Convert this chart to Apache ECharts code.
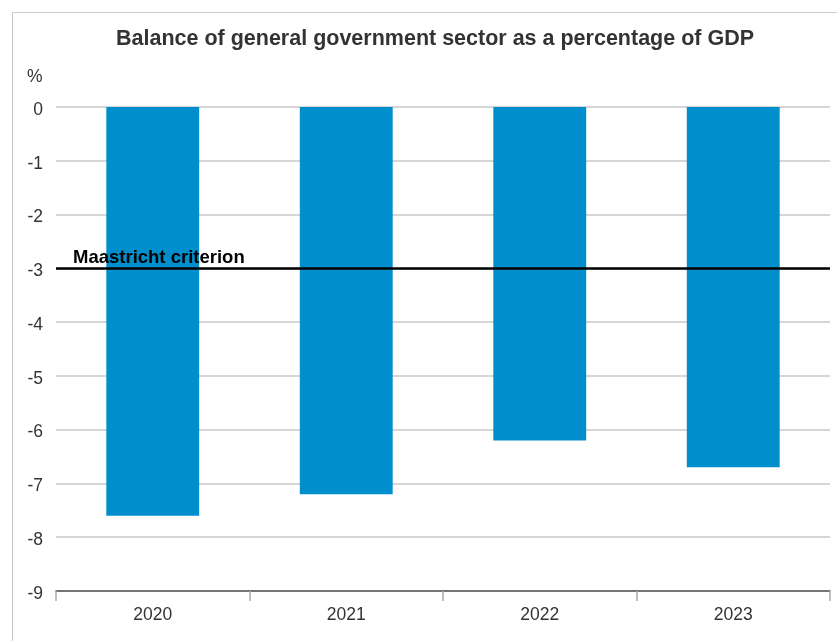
<!DOCTYPE html>
<html>
<head>
<meta charset="utf-8">
<script src="https://cdn.jsdelivr.net/npm/echarts@6/dist/echarts.min.js"></script>
<style>
  html, body { margin: 0; padding: 0; background: #fff; }
  #chart { width: 837px; height: 641px; }
</style>
</head>
<body>
<div id="chart"></div>
<script>
// Budget balance of the general government sector, % of GDP
const years = ['2020', '2021', '2022', '2023'];
const balance = [-7.6, -7.2, -6.2, -6.7];
const maastrichtLimit = -3;
const yTicks = { min: -9, max: 0, interval: 1 };

const FONT = 'Liberation Sans, Arial, sans-serif';
const chart = echarts.init(document.getElementById('chart'), null, { renderer: 'canvas' });

chart.setOption({
  animation: false,
  backgroundColor: '#fff',
  textStyle: { fontFamily: FONT },
  graphic: [
    {
      type: 'rect',
      shape: { x: 12.5, y: 12.5, width: 900, height: 700 },
      style: { fill: 'none', stroke: '#c9c9c9', lineWidth: 1 },
      silent: true
    },
    {
      type: 'text',
      left: 27, top: 68,
      style: { text: '%', fontSize: 17.5, fill: '#333', fontFamily: FONT }
    }
  ],
  title: {
    text: 'Balance of general government sector as a percentage of GDP',
    left: 430, top: 23, textAlign: 'center',
    textStyle: { fontSize: 21.5, fontWeight: 'bold', color: '#333', fontFamily: FONT }
  },
  grid: { left: 56, right: 7, top: 107, bottom: 50 },
  xAxis: {
    type: 'category',
    data: years,
    position: 'bottom',
    axisLine: { onZero: false, lineStyle: { color: '#555', width: 1.5 } },
    axisTick: { show: true, length: 10, lineStyle: { color: '#aaa', width: 1.5 } },
    axisLabel: { fontSize: 17.5, color: '#333', margin: 15 }
  },
  yAxis: {
    type: 'value',
    min: yTicks.min, max: yTicks.max, interval: yTicks.interval,
    axisLine: { show: false },
    axisTick: { show: false },
    axisLabel: {
      margin: 13,
      formatter: '{v|{value}}',
      rich: { v: { fontSize: 17.5, color: '#333', fontFamily: FONT, padding: [6, 0, 0, 0] } }
    },
    splitLine: { lineStyle: { color: '#c8c8c8', width: 1.5 } }
  },
  series: [{
    type: 'bar',
    data: balance,
    barWidth: '48%',
    itemStyle: { color: '#008fcc' },
    markLine: {
      silent: true,
      symbol: 'none',
      data: [{ yAxis: maastrichtLimit }],
      lineStyle: { color: '#000', width: 2.5, type: 'solid' },
      label: {
        show: true,
        position: 'insideStartTop',
        formatter: 'Maastricht criterion',
        fontSize: 18.5,
        fontWeight: 'bold',
        color: '#000',
        distance: [17, 1]
      }
    }
  }]
});
</script>
</body>
</html>
